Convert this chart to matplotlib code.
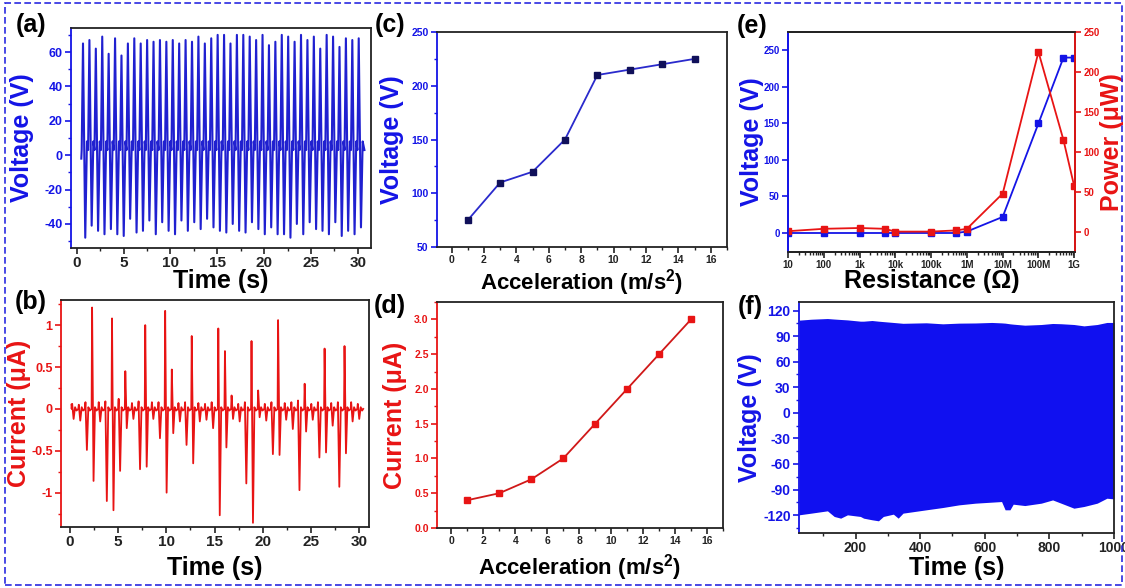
import numpy as np
import matplotlib.pyplot as plt
from matplotlib.ticker import MultipleLocator, FixedLocator, LogLocator, NullFormatter
from matplotlib.patches import Rectangle

plt.rcParams['font.family'] = ['Liberation Sans', 'DejaVu Sans']
plt.rcParams['font.weight'] = 'bold'
plt.rcParams['axes.labelweight'] = 'bold'
plt.rcParams['axes.unicode_minus'] = False
plt.rcParams['mathtext.fontset'] = 'custom'
plt.rcParams['mathtext.rm'] = 'Liberation Sans'
plt.rcParams['mathtext.bf'] = 'Liberation Sans:bold'

BLUE = '#1414e6'
RED = '#e81414'
DARK = '#222222'

# ---- data ----
# (a) open-circuit voltage, one peak / trough per cycle
a_peaks = [65, 67, 62, 69, 59, 68, 58, 65, 68, 65, 67, 66, 67, 66, 67, 65, 67, 66, 69, 65,
           68, 70, 70, 65, 70, 70, 69, 67, 70, 64, 66, 70, 69, 66, 70, 67, 69, 62, 70, 69,
           63, 68, 67, 68]
a_troughs = [-48, -41, -44, -46, -43, -46, -47, -37, -45, -44, -38, -46, -39, -44, -46, -38,
             -44, -39, -43, -37, -42, -44, -45, -40, -44, -45, -39, -43, -46, -42, -46, -46,
             -48, -40, -46, -39, -43, -44, -46, -39, -47, -44, -46, -42]
a_first, a_last = 0.68, 30.09

# (b) short-circuit current, up / down spike per cycle
b_up = [0.06, 0.05, 0.08, 1.21, 0.08, 0.09, 1.08, 0.12, 0.45, 0.07, 0.09, 1.00, 0.08, 0.08,
        1.17, 0.47, 0.07, 0.08, 0.87, 0.07, 0.06, 0.08, 0.96, 0.69, 0.16, 0.06, 0.08, 0.81,
        0.22, 0.06, 0.08, 1.06, 0.07, 0.08, 0.10, 0.30, 0.06, 0.08, 0.72, 0.07, 0.08, 0.75,
        0.08, 0.06]
b_down = [-0.12, -0.14, -0.49, -0.86, -0.15, -1.10, -1.21, -0.74, -0.23, -0.12, -0.72, -0.69,
          -0.12, -0.35, -1.00, -0.29, -0.15, -0.43, -0.65, -0.15, -0.13, -0.23, -1.27, -0.46,
          -0.12, -0.15, -0.89, -1.36, -0.10, -0.14, -0.54, -0.55, -0.13, -0.24, -0.97, -0.27,
          -0.13, -0.58, -0.52, -0.20, -0.93, -0.53, -0.15, -0.12]
b_first, b_last = 0.256, 29.84

# (c), (d)
accel = [1, 3, 5, 7, 9, 11, 13, 15]
c_volt = [75, 110, 120, 150, 210, 215, 220, 225]
d_curr = [0.4, 0.5, 0.7, 1.0, 1.5, 2.0, 2.5, 3.0]

# (e)
res = [10, 100, 1e3, 5e3, 1e4, 1e5, 5e5, 1e6, 1e7, 1e8, 5e8, 1e9]
e_volt = [0, 0, 0, 0, 0, 0, 0, 2, 22, 150, 240, 240]
e_power = [1, 4, 5, 4, 0.5, 0.5, 2, 4, 48, 225, 115, 57]
res_ticks = [10, 100, 1e3, 1e4, 1e5, 1e6, 1e7, 1e8, 1e9]
res_labels = ['10', '100', '1k', '10k', '100k', '1M', '10M', '100M', '1G']

# (f) long-term voltage envelope
f_time = [25, 63, 113, 134, 154, 175, 215, 225, 251, 271, 286, 317, 332, 347, 419, 470,
          520, 571, 622, 652, 663, 678, 688, 724, 775, 810, 836, 876, 907, 948, 978, 1000]
f_upper = [108.7, 109.8, 110.6, 110, 109.5, 109, 107.5, 107.5, 108.3, 107.5, 107, 106, 105.5,
           105, 105.6, 104.4, 105.2, 105.4, 106, 105.5, 105.2, 104.4, 104, 102.8, 103.6, 104.8,
           104.5, 103.6, 102, 103.6, 106, 106]
f_lower = [-119.7, -117.7, -115.0, -121.6, -123.6, -119.7, -121.6, -123.6, -125.5, -126.7,
           -121.6, -118.9, -123.6, -117.7, -113.8, -111.1, -108, -106, -104.8, -104.1, -113.8,
           -113.8, -107.2, -108.8, -106, -102.2, -106, -111.9, -109.9, -106, -100.2, -101]

# ---- build traces ----
ta, va = [0.5], [-2]
for p, hi, lo in zip(np.linspace(a_first, a_last, len(a_peaks)), a_peaks, a_troughs):
    ta += [p - 0.14, p, p + 0.24, p + 0.42]
    va += [3, hi, lo, 8]
ta.append(30.7)
va.append(3)

tb, vb = [0.18], [0.05]
for t, u, d in zip(np.linspace(b_first, b_last, len(b_up)), b_up, b_down):
    tb += [t - 0.05, t, t + 0.15, t + 0.3, t + 0.45]
    vb += [0, u, d, 0.02, -0.02]
tb.append(30.4)
vb.append(0)

# ---- figure ----
W, H = 1125, 588
fig = plt.figure(figsize=(W / 100, H / 100), dpi=100)


def add_ax(l, r, t, b):
    return fig.add_axes([l / W, 1 - b / H, (r - l) / W, (b - t) / H])


def style(ax, ycol, xfs, yfs):
    for s in ax.spines.values():
        s.set_linewidth(1.3)
        s.set_color(DARK)
    ax.spines['left'].set_color(ycol)
    ax.tick_params(which='both', direction='out', top=False, right=False)
    ax.tick_params(axis='y', which='both', colors=ycol, labelsize=yfs)
    ax.tick_params(axis='x', which='both', colors=DARK, labelsize=xfs)
    ax.tick_params(which='major', length=4, width=1.2, pad=2)
    ax.tick_params(which='minor', length=2.2, width=1)


def labels(ax, xl, yl, ycol, xy, yx, fs=18):
    ax.set_xlabel(xl, fontsize=fs, color='black')
    ax.set_ylabel(yl, fontsize=fs, color=ycol)
    ax.xaxis.set_label_coords(0.5, xy)
    ax.yaxis.set_label_coords(yx, 0.5)
    ax.xaxis.label.set_va('center')
    ax.yaxis.label.set_va('center')


# (a)
ax = add_ax(71, 371, 28, 248)
ax.plot(ta, va, color='#2020d0', lw=1.5)
ax.set_xlim(-0.6, 31.4)
ax.set_ylim(-54, 74)
ax.xaxis.set_major_locator(MultipleLocator(5))
ax.xaxis.set_minor_locator(MultipleLocator(2.5))
ax.yaxis.set_major_locator(MultipleLocator(20))
ax.yaxis.set_minor_locator(MultipleLocator(10))
style(ax, BLUE, 11, 9)
labels(ax, 'Time (s)', 'Voltage (V)', BLUE, -0.15, -0.165)

# (b)
ax = add_ax(61, 369, 300, 527)
ax.plot(tb, vb, color=RED, lw=1.3)
ax.set_xlim(-0.9, 31.0)
ax.set_ylim(-1.41, 1.3)
ax.xaxis.set_major_locator(MultipleLocator(5))
ax.xaxis.set_minor_locator(MultipleLocator(2.5))
ax.yaxis.set_major_locator(FixedLocator([-1, -0.5, 0, 0.5, 1]))
ax.yaxis.set_minor_locator(MultipleLocator(0.25))
ax.set_yticklabels(['-1', '-0.5', '0', '0.5', '1'])
style(ax, RED, 11, 9)
labels(ax, 'Time (s)', 'Current (μA)', RED, -0.18, -0.135)

# (c)
ax = add_ax(437, 727, 32, 247)
ax.plot(accel, c_volt, color='#2a2acc', lw=1.3, marker='s', ms=4,
        mfc='#10105a', mec='#10105a')
ax.set_xlim(-0.9, 17)
ax.set_ylim(50, 250)
ax.xaxis.set_major_locator(MultipleLocator(2))
ax.xaxis.set_minor_locator(MultipleLocator(1))
ax.yaxis.set_major_locator(MultipleLocator(50))
ax.yaxis.set_minor_locator(MultipleLocator(25))
style(ax, BLUE, 7.5, 7.5)
labels(ax, 'Acceleration (m/s$^{2}$)', 'Voltage (V)', BLUE, -0.165, -0.155, fs=16)
ax.yaxis.label.set_fontsize(18)

# (d)
ax = add_ax(437, 723, 302, 528)
ax.plot(accel, d_curr, color='#d01818', lw=1.3, marker='s', ms=4, mfc=RED, mec=RED)
ax.set_xlim(-0.9, 17)
ax.set_ylim(0, 3.25)
ax.xaxis.set_major_locator(MultipleLocator(2))
ax.xaxis.set_minor_locator(MultipleLocator(1))
ax.yaxis.set_major_locator(MultipleLocator(0.5))
ax.yaxis.set_minor_locator(MultipleLocator(0.25))
ax.yaxis.set_major_formatter(plt.FormatStrFormatter('%.1f'))
style(ax, RED, 7.5, 7.5)
labels(ax, 'Acceleration (m/s$^{2}$)', 'Current (μA)', RED, -0.175, -0.147, fs=16)
ax.yaxis.label.set_fontsize(18)

# (e)
ax = add_ax(788, 1075, 32, 252)
ax2 = ax.twinx()
ax.plot(res, e_volt, color=BLUE, lw=1.3, marker='s', ms=4)
ax2.plot(res, e_power, color=RED, lw=1.3, marker='s', ms=4)
ax.set_xscale('log')
ax.set_xlim(10, 1.05e9)
ax.set_ylim(-26, 275)
ax2.set_ylim(-25, 250)
ax.xaxis.set_major_locator(FixedLocator(res_ticks))
ax.set_xticklabels(res_labels)
ax.xaxis.set_minor_locator(LogLocator(base=10, subs=np.arange(2, 10), numticks=20))
ax.xaxis.set_minor_formatter(NullFormatter())
ax.yaxis.set_major_locator(MultipleLocator(50))
ax2.yaxis.set_major_locator(MultipleLocator(50))
style(ax, BLUE, 7, 7)
for s in ax2.spines.values():
    s.set_linewidth(1.3)
    s.set_color(DARK)
ax2.spines['left'].set_color(BLUE)
ax2.spines['right'].set_color(RED)
ax2.tick_params(axis='y', which='both', colors=RED, labelsize=7, direction='out',
                length=4, width=1.2, pad=2)
labels(ax, 'Resistance (Ω)', 'Voltage (V)', BLUE, -0.13, -0.125)
ax2.set_ylabel('Power (μW)', fontsize=18, color=RED)
ax2.yaxis.set_label_coords(1.13, 0.5)
ax2.yaxis.label.set_va('center')

# (f)
ax = add_ax(799, 1114, 302, 533)
ax.fill_between(f_time, f_lower, f_upper, color='#1010f0', lw=0)
ax.set_xlim(25, 1000)
ax.set_ylim(-141, 130)
ax.xaxis.set_major_locator(MultipleLocator(200))
ax.xaxis.set_minor_locator(MultipleLocator(100))
ax.yaxis.set_major_locator(MultipleLocator(30))
ax.yaxis.set_minor_locator(MultipleLocator(15))
style(ax, BLUE, 10, 10)
labels(ax, 'Time (s)', 'Voltage (V)', BLUE, -0.15, -0.155)

# panel letters
for lab, x, y in [('(a)', 31, 25), ('(b)', 31, 302), ('(c)', 390, 25),
                  ('(d)', 390, 306), ('(e)', 752, 26), ('(f)', 750, 307)]:
    fig.text(x / W, 1 - y / H, lab, fontsize=18, fontweight='bold',
             ha='center', va='center', color='black')

# dashed frame
fig.patches.append(Rectangle((5 / W, 3 / H), (1122 - 5) / W, (585 - 3) / H,
                             transform=fig.transFigure, fill=False, ec='#2a2ae0',
                             lw=1.2, ls=(0, (4, 2))))

fig.savefig('out.png', dpi=100)
